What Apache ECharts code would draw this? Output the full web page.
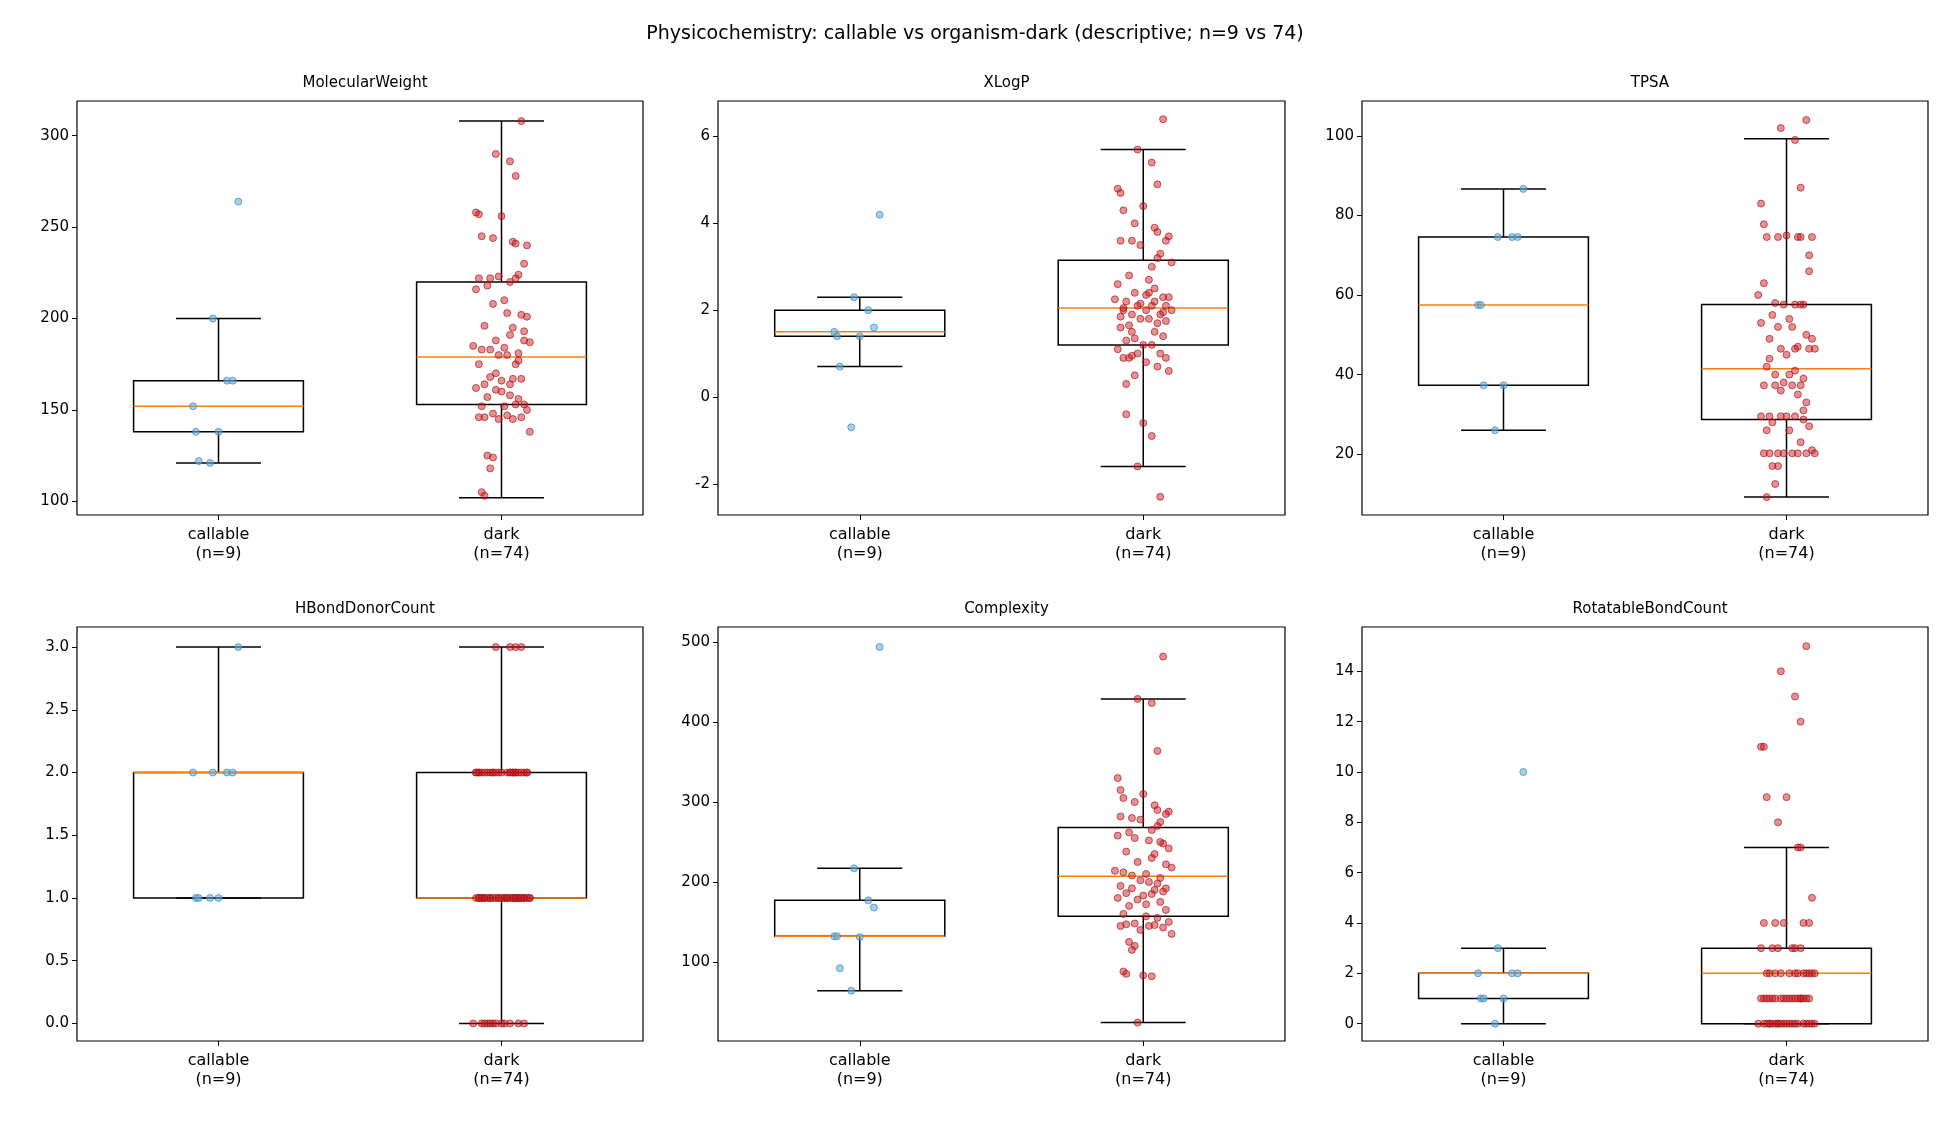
<!DOCTYPE html>
<html><head><meta charset="utf-8">
<script src="https://cdn.jsdelivr.net/npm/echarts@6/dist/echarts.min.js"></script>
<style>html,body{margin:0;background:#fff}#c{width:1950px;height:1125px}</style></head>
<body><div id="c"></div>
<script>
const groups = ['callable\n(n=9)', 'dark\n(n=74)'];
const titles = ['MolecularWeight','XLogP','TPSA','HBondDonorCount','Complexity','RotatableBondCount'];
const yTicks = [[100,150,200,250,300],[-2,0,2,4,6],[20,40,60,80,100],[0,0.5,1,1.5,2,2.5,3],[100,200,300,400,500],[0,2,4,6,8,10,12,14]];
const yRange = [[92.5,319],[-2.72,6.82],[4.7,108.8],[-0.14,3.16],[1,519],[-0.69,15.76]];
// box stats: [lowWhisker, q1, median, q3, highWhisker]
const boxCallable = [[121,138,152,166,200],[0.7,1.4,1.5,2.0,2.3],[26,37.3,57.5,74.6,86.7],[1,1,2,2,3],[64,132,132,177,217],[0,1,2,2,3]];
const boxDark = [[102,153,179,220,308],[-1.6,1.2,2.05,3.15,5.7],[9.2,28.7,41.5,57.6,99.3],[0,1,1,2,3],[24,157,207,268,429],[0,0,2,3,7]];
const ptsCallable = [
 [264,200,166,166,152,138,138,122,121],
 [4.2,2.3,2.0,1.6,1.5,1.4,1.4,0.7,-0.7],
 [86.7,74.6,74.6,74.6,57.5,57.5,37.3,37.3,26],
 [3,2,2,2,2,1,1,1,1],
 [494,217,177,168,132,132,131,92,64],
 [10,3,2,2,2,1,1,1,0]];
const ptsDark = [
 [308,290,286,278,258,257,256,245,244,242,241,240,230,222,222,223,224,222,220,218,216,208,203,202,201,196,195,191,188,188,187,183,184,183,181,180,180,175,175,168,167,167,164,164,166,162,161,156,157,153,152,152,153,150,148,146,145,147,146,146,145,138,125,124,118,105,103,160,158,170,177,185,193,210],
 [6.4,5.7,5.4,4.9,4.8,4.7,4.4,4.3,4.0,3.9,3.8,3.7,3.6,3.6,3.6,3.5,3.3,3.2,3.0,2.8,2.6,2.4,2.4,2.3,2.3,2.2,2.2,2.1,2.1,2.1,2.0,2.0,2.0,1.9,1.9,1.8,1.8,1.7,1.6,1.5,1.5,1.4,1.3,1.2,1.2,1.1,1.0,1.0,0.9,0.9,0.9,0.8,0.7,0.6,0.5,0.3,2.5,2.7,1.85,1.95,2.15,3.1,1.65,1.35,0.95,2.05,-0.4,-0.6,-0.9,-1.6,-2.3,2.25,1.75,2.35],
 [104,102,99,87,83,77.8,75,74.6,74.6,74.6,74.6,74.6,66,63,58,57.6,57.6,57.6,57.6,55,53,52,52,50,49,49,47,46.5,46.5,46.5,46.5,42,40,40,39,38,37.3,37.3,37.3,37.3,35,33,29.5,29.5,29.5,29.5,29.5,28.7,28,27,26,26,23,21,20.2,20.2,20.2,20.2,20.2,20.2,20.2,20.2,17,17,12.5,9.2,44,45,41,36,31,60,70,54],
 [3,3,3,3,2,2,2,2,2,2,2,2,2,2,2,2,2,2,2,2,2,2,2,2,2,2,2,2,2,1,1,1,1,1,1,1,1,1,1,1,1,1,1,1,1,1,1,1,1,1,1,1,1,1,1,1,1,1,1,1,1,1,0,0,0,0,0,0,0,0,0,0,0,0],
 [482,429,424,364,330,315,310,305,300,296,290,288,285,282,280,278,275,270,265,262,258,255,252,248,242,238,235,230,225,222,218,212,210,208,205,202,200,198,195,192,190,188,186,185,183,180,178,175,170,165,160,157,155,150,148,147,146,145,145,143,140,135,125,120,115,88,85,83,82,24,250,214,192,172],
 [15,14,13,12,11,11,9,9,8,7,7,5,4,4,4,4,4,3,3,3,3,3,3,2,2,2,2,2,2,2,2,2,2,2,2,1,1,1,1,1,1,1,1,1,1,1,1,1,1,1,1,1,1,0,0,0,0,0,0,0,0,0,0,0,0,0,0,0,0,0,0,0,0,0]];
const jitter = [0.07,-0.02,0.03,0.05,-0.09,-0.08,0.0,-0.07,-0.03,0.04,0.05,0.09,0.08,-0.08,-0.04,-0.01,0.06,0.05,0.03,-0.05,-0.09,-0.03,0.02,0.07,0.09,-0.06,0.04,0.03,-0.02,0.08,0.1,-0.07,0.01,-0.04,0.06,-0.01,0.02,0.05,-0.08,-0.04,0.04,0.07,-0.06,0.03,0.0,-0.09,-0.02,0.06,-0.05,0.08,-0.07,0.01,0.05,0.09,-0.03,-0.06,0.04,0.02,-0.08,0.07,-0.01,0.1,-0.05,-0.03,-0.04,-0.07,-0.06,0.0,0.03,-0.02,0.06,-0.1,0.08,0.01];

const chart = echarts.init(document.getElementById('c'));
const lefts = [77,718,1362], widths = [566,567,566], tops = [101,627];
const grid=[], xAxis=[], yAxis=[], series=[], title=[{text:'Physicochemistry: callable vs organism-dark (descriptive; n=9 vs 74)',left:'center',top:20,textStyle:{fontFamily:'DejaVu Sans',fontSize:19,fontWeight:'normal',color:'#000'}}];
const font='DejaVu Sans';
for (let i=0;i<6;i++){
  const r=Math.floor(i/3), c=i%3;
  grid.push({left:lefts[c],top:tops[r],width:widths[c],height:414,show:true,borderColor:'#000',borderWidth:1.2,backgroundColor:'transparent'});
  title.push({text:titles[i],left:lefts[c]+widths[c]/2,top:tops[r]-30,textAlign:'center',textStyle:{fontFamily:font,fontSize:15,fontWeight:'normal',color:'#000'}});
  xAxis.push({gridIndex:i,type:'value',min:0.5,max:2.5,splitLine:{show:false},axisLine:{show:false,onZero:false},
    axisTick:{customValues:[1,2],length:5,lineStyle:{color:'#000'}},
    axisLabel:{customValues:[1,2],formatter:v=>groups[Math.round(v)-1],fontFamily:font,fontSize:16,color:'#000',lineHeight:19,margin:10}});
  yAxis.push({gridIndex:i,type:'value',min:yRange[i][0],max:yRange[i][1],splitLine:{show:false},axisLine:{show:false,onZero:false},
    axisTick:{customValues:yTicks[i],length:5,lineStyle:{color:'#000'}},
    axisLabel:{customValues:yTicks[i],fontFamily:font,fontSize:15,color:'#000',margin:8,formatter:v=>i===3?v.toFixed(1):String(v)}});
  series.push({type:'custom',xAxisIndex:i,yAxisIndex:i,z:3,
    data:[[1].concat(boxCallable[i]),[2].concat(boxDark[i])],
    renderItem:(p,api)=>{
      const x=api.value(0); const v=[1,2,3,4,5].map(k=>api.value(k));
      const L=api.coord([x-0.3,v[1]]), R=api.coord([x+0.3,v[3]]);
      const cl=api.coord([x-0.15,v[0]]), cr=api.coord([x+0.15,v[0]]);
      const tl=api.coord([x-0.15,v[4]]), tr=api.coord([x+0.15,v[4]]);
      const m1=api.coord([x-0.3,v[2]]), m2=api.coord([x+0.3,v[2]]);
      const cx=api.coord([x,v[1]])[0];
      const st={stroke:'#000',lineWidth:1.5,fill:null};
      return {type:'group',children:[
        {type:'line',shape:{x1:cx,y1:L[1],x2:cx,y2:cl[1]},style:st},
        {type:'line',shape:{x1:cx,y1:R[1],x2:cx,y2:tl[1]},style:st},
        {type:'line',shape:{x1:cl[0],y1:cl[1],x2:cr[0],y2:cr[1]},style:st},
        {type:'line',shape:{x1:tl[0],y1:tl[1],x2:tr[0],y2:tr[1]},style:st},
        {type:'rect',shape:{x:L[0],y:R[1],width:R[0]-L[0],height:L[1]-R[1]},style:{stroke:'#000',lineWidth:1.5,fill:'rgba(0,0,0,0)'}},
        {type:'line',shape:{x1:m1[0],y1:m1[1],x2:m2[0],y2:m2[1]},style:{stroke:'#ff7f0e',lineWidth:1.5}}
      ]};
    }});
  series.push({type:'scatter',xAxisIndex:i,yAxisIndex:i,z:5,symbolSize:7,
    data:ptsCallable[i].map((y,k)=>[1+jitter[k],y]),
    itemStyle:{color:'rgba(107,174,214,0.75)',borderColor:'rgba(49,130,189,0.8)',borderWidth:1}});
  series.push({type:'scatter',xAxisIndex:i,yAxisIndex:i,z:5,symbolSize:7,
    data:ptsDark[i].map((y,k)=>[2+jitter[k%jitter.length],y]),
    itemStyle:{color:'rgba(203,24,29,0.6)',borderColor:'rgba(165,15,21,0.8)',borderWidth:1}});
}
chart.setOption({animation:false,backgroundColor:'#fff',title,grid,xAxis,yAxis,series});
</script></body></html>
